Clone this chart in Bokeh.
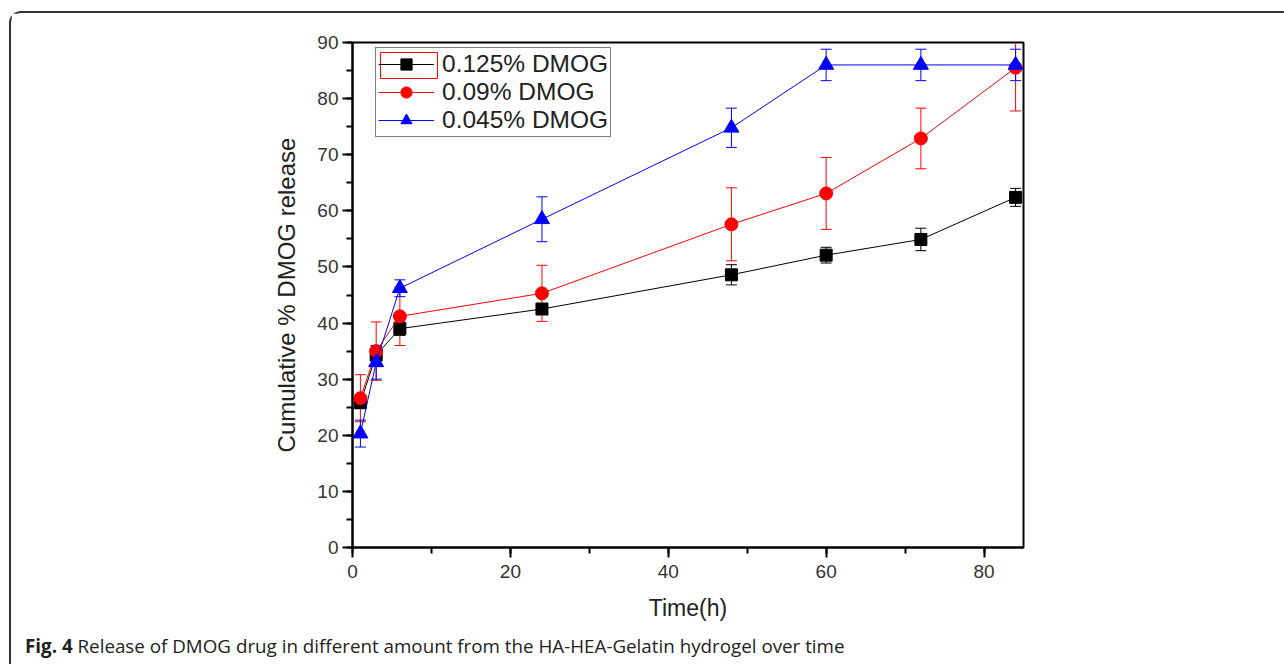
from bokeh.plotting import figure
from bokeh.models import (ColumnDataSource, Whisker, TeeHead, Legend, LegendItem,
                          BoxAnnotation, Range1d, SingleIntervalTicker, Div)
from bokeh.layouts import column
from bokeh.embed import file_html
from bokeh.resources import INLINE

# ---- data ----
time_h = [1, 3, 6, 24, 48, 60, 72, 84]
dmog_0125 = [25.8, 34.3, 39.0, 42.5, 48.6, 52.1, 54.9, 62.4]
dmog_0125_err = [1.0, 1.5, 1.2, 0.8, 1.8, 1.4, 2.0, 1.6]
dmog_009 = [26.6, 35.0, 41.2, 45.3, 57.6, 63.1, 72.9, 85.5]
dmog_009_err = [4.2, 5.2, 5.2, 5.0, 6.5, 6.4, 5.4, 7.7]
dmog_0045 = [20.3, 33.0, 46.2, 58.5, 74.8, 86.0, 86.0, 86.0]
dmog_0045_err = [2.4, 3.0, 1.5, 4.0, 3.5, 2.8, 2.8, 2.8]
series_labels = ["0.125% DMOG", "0.09% DMOG", "0.045% DMOG"]
x_label = "Time(h)"
y_label = "Cumulative % DMOG release"
caption_bold = "Fig. 4"
caption_text = "Release of DMOG drug in different amount from the HA-HEA-Gelatin hydrogel over time"

FONT = "Liberation Sans"

# outer layout offsets (column margin + 2px border)
MX, MY = 9, 11
OX, OY = MX + 2, MY + 2
FIG_W, FIG_H = 1284 - OX, 618
CAP_H = 664 - OY - FIG_H

p = figure(width=FIG_W, height=FIG_H, x_range=Range1d(0, 85), y_range=Range1d(0, 90),
           output_backend="svg", toolbar_location=None,
           min_border_left=352 - OX, min_border_right=FIG_W - (1023 - OX),
           min_border_top=42 - OY, min_border_bottom=FIG_H - (547 - OY))
p.xgrid.visible = False
p.ygrid.visible = False
p.outline_line_color = "black"
p.outline_line_width = 2
p.outline_line_alpha = 1

p.xaxis.ticker = SingleIntervalTicker(interval=20, num_minor_ticks=2)
p.yaxis.ticker = SingleIntervalTicker(interval=10, num_minor_ticks=2)
for ax in (p.xaxis, p.yaxis):
    ax.axis_line_width = 2
    ax.axis_line_color = "black"
    ax.major_tick_line_width = 2
    ax.minor_tick_line_width = 2
    ax.major_tick_line_color = "black"
    ax.minor_tick_line_color = "black"
    ax.major_tick_in = 0
    ax.minor_tick_in = 0
    ax.major_tick_out = 10
    ax.minor_tick_out = 6
    ax.major_label_text_font = FONT
    ax.major_label_text_font_size = "19px"
    ax.major_label_text_color = "#333333"
    ax.axis_label_text_font = FONT
    ax.axis_label_text_font_style = "normal"
    ax.axis_label_text_color = "#222222"
p.xaxis.axis_label = x_label
p.yaxis.axis_label = y_label
p.xaxis.axis_label_text_font_size = "23px"
p.yaxis.axis_label_text_font_size = "24px"
p.xaxis.major_label_standoff = 7
p.yaxis.major_label_standoff = 4
p.xaxis.axis_label_standoff = 14
p.yaxis.axis_label_standoff = 14

specs = [
    (dmog_0125, dmog_0125_err, "black", "square", 12),
    (dmog_009, dmog_009_err, "red", "circle", 13),
    (dmog_0045, dmog_0045_err, "blue", "triangle", 15),
]
items = []
for (vals, errs, col, marker, size), lab in zip(specs, series_labels):
    src = ColumnDataSource(dict(x=time_h, y=vals,
                                upper=[v + e for v, e in zip(vals, errs)],
                                lower=[v - e for v, e in zip(vals, errs)]))
    w = Whisker(source=src, base="x", upper="upper", lower="lower", dimension="height",
                line_color=col, line_width=1,
                upper_head=TeeHead(size=11, line_color=col, line_width=1),
                lower_head=TeeHead(size=11, line_color=col, line_width=1))
    p.add_layout(w)
    lr = p.line("x", "y", source=src, line_color=col, line_width=1)
    sr = p.scatter("x", "y", source=src, marker=marker, size=size, fill_color=col, line_color=col)
    items.append(LegendItem(label=lab, renderers=[lr, sr]))

# red selection box around the first legend glyph (drawn under a transparent legend)
sel_box = BoxAnnotation(left=28, right=85, top=495, bottom=469,
                        left_units="screen", right_units="screen",
                        top_units="screen", bottom_units="screen",
                        fill_alpha=0, line_color="red", line_width=1, line_alpha=1)
p.add_layout(sel_box)

legend = Legend(items=items, location=(23, 410))
legend.label_text_font = FONT
legend.label_text_font_size = "24.5px"
legend.label_text_color = "#222222"
legend.glyph_width = 56
legend.glyph_height = 28
legend.label_height = 28
legend.spacing = 0
legend.padding = 2
legend.margin = 0
legend.label_standoff = 8
legend.border_line_color = "black"
legend.border_line_width = 1
legend.background_fill_alpha = 0
p.add_layout(legend)

cap = Div(text=f"<b>{caption_bold}</b> {caption_text}", width=FIG_W, height=CAP_H, margin=0,
          styles={"font-family": "Open Sans", "font-size": "18.8px", "color": "#222222",
                  "line-height": "1", "white-space": "nowrap", "padding-left": "14px",
                  "padding-top": "6px", "box-sizing": "border-box"})

layout = column(p, cap, margin=(MY, 0, 0, MX), spacing=0,
                styles={"border-top": "2px solid #333333", "border-left": "2px solid #333333",
                        "border-top-left-radius": "12px"})

open("out.html", "w").write(file_html(layout, INLINE))
